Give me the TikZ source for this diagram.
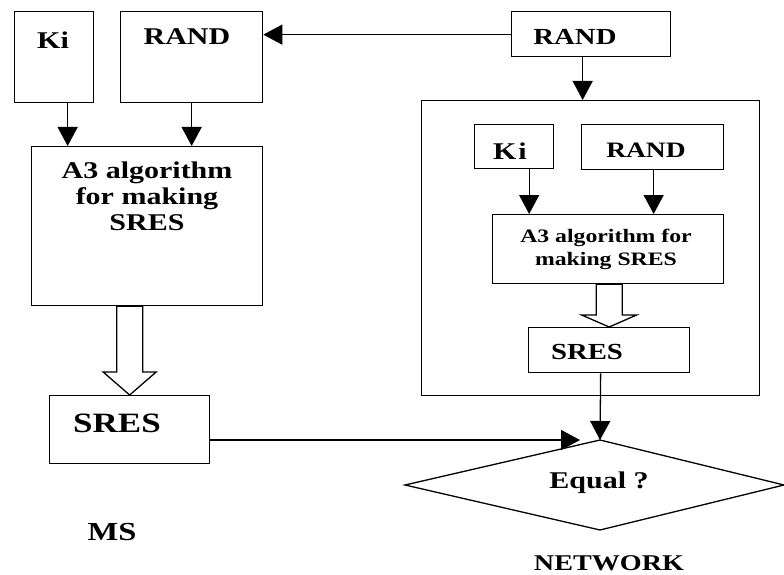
\documentclass[tikz,border=0pt]{standalone}
\usepackage{fontspec}
\setmainfont{Liberation Serif}[FakeStretch=1.25]
\usetikzlibrary{arrows.meta,calc}

\begin{document}
\begin{tikzpicture}[x=1pt,y=-1pt,
  box/.style={draw, line width=1.3pt, inner sep=0pt, anchor=north west},
  txt/.style={font=\bfseries\fontsize{#1}{#1}\selectfont, inner sep=0pt, align=center},
  arr/.style={line width=1.3pt, -{Triangle[length=19pt,width=20pt]}},
  hollow/.style={draw, line width=1.3pt, fill=white, line join=miter}
]
\useasboundingbox (0,0) rectangle (784,575);

% ---- mobile station side ----
\node[box, minimum width=79pt, minimum height=91pt] (kiL) at (14,11) {};
\node[txt=24] (kiLt) at (53,40) {Ki};
\node[box, minimum width=142pt, minimum height=91pt] (randL) at (120,11) {};
\node[txt=24] (randLt) at (187,37) {RAND};
\node[box, minimum width=231pt, minimum height=159pt] (a3L) at (31,146) {};
\node[font=\bfseries\fontsize{24}{26}\selectfont, inner sep=0pt, align=center, anchor=north] (a3Lt) at (147,162)
  {A3 algorithm\\for making\\SRES};
\node[box, minimum width=160pt, minimum height=68pt] (sresL) at (49,395) {};
\node[txt=28] (sresLt) at (117,423) {SRES};
\node[txt=26] (ms) at (112,532) {MS};

% ---- network side ----
\node[box, minimum width=159pt, minimum height=45pt] (randR) at (511,11) {};
\node[txt=23] (randRt) at (575,37) {RAND};
\node[box, minimum width=338pt, minimum height=295pt] (outer) at (421,100) {};
\node[box, minimum width=79pt, minimum height=44pt] (kiI) at (474,124) {};
\node[txt=24] (kiIt) at (510,151) {K\hspace{2pt}i};
\node[box, minimum width=142pt, minimum height=45pt] (randI) at (581,124) {};
\node[txt=22] (randIt) at (646,150) {RAND};
\node[box, minimum width=231pt, minimum height=69pt] (a3I) at (492,214) {};
\node[font=\bfseries\fontsize{19}{23}\selectfont, inner sep=0pt, align=center] (a3It) at (606,249)
  {A3 algorithm for\\making SRES};
\node[box, minimum width=161pt, minimum height=45pt] (sresI) at (528,327) {};
\node[txt=23] (sresIt) at (587,352) {SRES};

% comparison diamond
\coordinate (dT) at (600,440);
\coordinate (dL) at (405,485);
\coordinate (dR) at (784,485);
\coordinate (dB) at (600,530);
\draw[line width=1.3pt] (dT) -- (dR) -- (dB) -- (dL) -- cycle;
\node[txt=24] (eq) at (599,483) {Equal ?};
\node[txt=22.5] (net) at (609,563) {NETWORK};

% ---- connectors ----
\draw[arr] ([xshift=13.5pt]kiL.south) -- ([xshift=13.5pt]kiL.south |- a3L.north);
\draw[arr] ([xshift=0pt]randL.south) -- (randL.south |- a3L.north);
\draw[arr] ([yshift=-0.5pt]randR.west) -- ([yshift=-0.5pt]randR.west -| randL.east);
\draw[arr] ([xshift=-8.5pt]randR.south) -- ([xshift=-8.5pt]randR.south |- outer.north);
\draw[arr] ([xshift=15pt]kiI.south) -- ([xshift=15pt]kiI.south |- a3I.north);
\draw[arr] ([xshift=1pt]randI.south) -- ([xshift=1pt]randI.south |- a3I.north);
\draw[arr] ([xshift=-8.5pt]sresI.south) -- (dT);
\coordinate (hitL) at ($(dT)+(-20,0)$);
\draw[arr] (sresL.east |- hitL) -- (hitL);

% hollow block arrows
\coordinate (tipL) at (sresL.north);
\coordinate (sl1) at ($(tipL)+(-13,0)$);
\coordinate (sl2) at ($(tipL)+(13,0)$);
\draw[hollow] (tipL) -- ++(-26.5,-23) -- ($(tipL)+(-13,-23)$) -- (sl1 |- a3L.south)
  -- (sl2 |- a3L.south) -- ($(tipL)+(13,-23)$) -- ($(tipL)+(26.5,-23)$) -- cycle;
\coordinate (tipR) at (sresI.north);
\coordinate (sr1) at ($(tipR)+(-13,0)$);
\coordinate (sr2) at ($(tipR)+(13,0)$);
\draw[hollow] (tipR) -- ++(-27.5,-12) -- ($(tipR)+(-13,-12)$) -- (sr1 |- a3I.south)
  -- (sr2 |- a3I.south) -- ($(tipR)+(13,-12)$) -- ($(tipR)+(27.5,-12)$) -- cycle;
\end{tikzpicture}
\end{document}
